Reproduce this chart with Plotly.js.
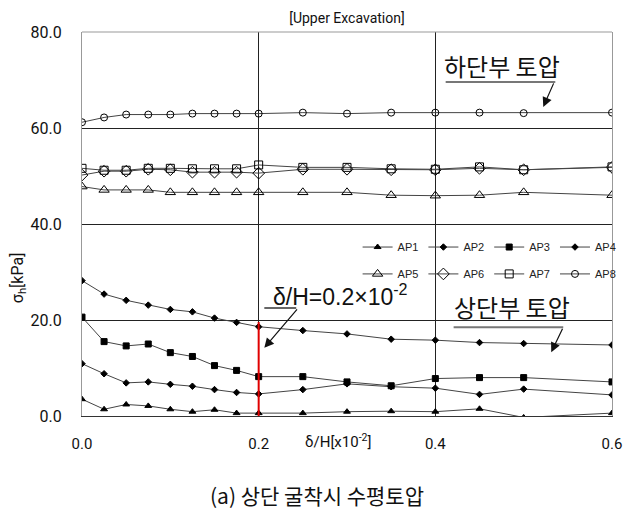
<!DOCTYPE html>
<html>
<head>
<meta charset="utf-8">
<script src="https://cdn.plot.ly/plotly-3.0.1.min.js"></script>
<style>html,body{margin:0;padding:0;background:#fff;}#chart{width:623px;height:517px;}</style>
</head>
<body>
<div id="chart"></div>
<script>
// δ/H [x10^-2]
const xVals = [0, 0.025, 0.05, 0.075, 0.1, 0.125, 0.15, 0.175, 0.2, 0.25, 0.3, 0.35, 0.4, 0.45, 0.5, 0.6];
// σh [kPa]
const AP1 = [3.5, 1.4, 2.4, 2.1, 1.4, 0.9, 1.3, 0.6, 0.6, 0.6, 0.9, 1.0, 0.9, 1.5, -0.3, 0.6];
const AP2 = [10.9, 8.8, 6.9, 7.1, 6.6, 6.2, 5.5, 4.9, 4.6, 5.5, 6.7, 6.1, 5.8, 4.5, 5.6, 4.4];
const AP3 = [20.6, 15.5, 14.6, 15.0, 13.2, 12.4, 10.5, 9.5, 8.2, 8.2, 7.1, 6.3, 7.8, 8.0, 8.0, 7.1];
const AP4 = [28.2, 25.4, 24.1, 23.1, 22.2, 21.7, 20.4, 19.5, 18.6, 17.8, 17.1, 16.0, 15.8, 15.3, 15.1, 14.8];
const AP5 = [47.8, 47.1, 47.1, 47.1, 46.6, 46.6, 46.6, 46.6, 46.6, 46.6, 46.6, 46.0, 45.9, 46.0, 46.6, 46.0];
const AP6 = [50.2, 51.0, 51.0, 51.4, 51.3, 50.8, 50.8, 50.8, 50.6, 51.4, 51.4, 51.3, 51.3, 51.6, 51.3, 51.8];
const AP7 = [51.6, 51.2, 51.2, 51.6, 51.6, 51.5, 51.5, 51.5, 52.3, 51.8, 51.8, 51.5, 51.4, 51.9, 51.3, 51.9];
const AP8 = [61.2, 62.2, 62.8, 62.8, 62.8, 63.0, 63.0, 63.0, 63.0, 63.2, 63.0, 63.2, 63.2, 63.2, 63.1, 63.2];

const seriesNames = ['AP1','AP2','AP3','AP4','AP5','AP6','AP7','AP8'];
const seriesData = [AP1, AP2, AP3, AP4, AP5, AP6, AP7, AP8];
const xTickVals = [0, 0.2, 0.4, 0.6];
const xTickText = ['0.0', '0.2', '0.4', '0.6'];
const yTickVals = [0, 20, 40, 60, 80];
const yTickText = ['0.0', '20.0', '40.0', '60.0', '80.0'];
const markerStyles = [
  {symbol: 'triangle-up', size: 6},
  {symbol: 'diamond', size: 5},
  {symbol: 'square', size: 6},
  {symbol: 'diamond', size: 5},
  {symbol: 'triangle-up-open', size: 9},
  {symbol: 'diamond-open', size: 9},
  {symbol: 'square-open', size: 8},
  {symbol: 'circle-open', size: 7}
];

const NARROW = 'Roboto, Liberation Sans, sans-serif';
const KR = 'Noto Sans CJK KR, sans-serif';

const traces = seriesNames.map((name, i) => ({
  x: xVals, y: seriesData[i], name: name, type: 'scatter', mode: 'lines+markers',
  line: {color: '#444', width: 1},
  marker: {symbol: markerStyles[i].symbol, size: markerStyles[i].size, color: '#000', line: {color: '#000', width: 1}},
  legend: i < 4 ? 'legend' : 'legend2',
  cliponaxis: true
}));

const layout = {
  width: 623, height: 517,
  margin: {l: 82, r: 11, t: 32, b: 101, autoexpand: false},
  paper_bgcolor: '#fff', plot_bgcolor: '#fff',
  showlegend: true,
  title: {text: '[Upper Excavation]', x: 0.5, xref: 'paper', xanchor: 'center', y: 0.965, yanchor: 'middle',
          font: {family: NARROW, size: 14, color: '#111'}},
  xaxis: {
    range: [0, 0.6], tickvals: xTickVals, ticktext: xTickText,
    showgrid: true, gridcolor: '#222', gridwidth: 1, zeroline: false,
    showline: true, linecolor: '#333', linewidth: 1,
    ticks: '', ticklabelstandoff: 14, ticklabeloverflow: 'allow',
    tickfont: {family: NARROW, size: 15, color: '#111'}
  },
  yaxis: {
    range: [0, 80], tickvals: yTickVals, ticktext: yTickText,
    showgrid: true, gridcolor: '#222', gridwidth: 1, zeroline: false,
    showline: true, linecolor: '#999', linewidth: 1, mirror: true,
    ticks: '', ticklabelstandoff: 16, ticklabeloverflow: 'allow',
    tickfont: {family: NARROW, size: 16, color: '#111'}
  },
  legend: {orientation: 'h', x: 0.52, xanchor: 'left', y: 0.44, yanchor: 'middle',
           bgcolor: 'rgba(0,0,0,0)', itemwidth: 30, font: {family: 'Liberation Sans, sans-serif', size: 11, color: '#222'}},
  legend2: {orientation: 'h', x: 0.52, xanchor: 'left', y: 0.37, yanchor: 'middle',
           bgcolor: 'rgba(0,0,0,0)', itemwidth: 30, font: {family: 'Liberation Sans, sans-serif', size: 11, color: '#222'}},
  shapes: [
    {type: 'line', xref: 'paper', yref: 'paper', x0: 0, x1: 1, y0: 1, y1: 1, line: {color: '#999', width: 1}},
    {type: 'line', xref: 'x', yref: 'y', x0: 0.2, x1: 0.2, y0: -0.8, y1: 19.6, line: {color: '#e00000', width: 2}},
    {type: 'line', xref: 'x', yref: 'y', x0: 0.2064, x1: 0.2425, y0: 22.5, y1: 22.5, line: {color: '#666', width: 2}},
    {type: 'line', xref: 'x', yref: 'y', x0: 0.4207, x1: 0.5448, y0: 18.5, y1: 18.5, line: {color: '#777', width: 2}},
    {type: 'line', xref: 'x', yref: 'y', x0: 0.4117, x1: 0.5358, y0: 69.6, y1: 69.6, line: {color: '#777', width: 2}}
  ],
  annotations: [
    {xref: 'x', yref: 'y', x: 0.2143, y: 25.2, xanchor: 'left', yanchor: 'middle', showarrow: false,
     text: 'δ/H=0.2×10<sup>-2</sup>', font: {family: 'Liberation Sans, sans-serif', size: 23, color: '#111'}},
    {xref: 'x', yref: 'y', x: 0.2064, y: 14.2, ax: 34, ay: -40, text: '',
     showarrow: true, arrowhead: 2, arrowsize: 1.6, arrowwidth: 1.2, arrowcolor: '#111'},
    {xref: 'x', yref: 'y', x: 0.4872, y: 22.9, xanchor: 'center', yanchor: 'middle', showarrow: false,
     text: '상단부 토압', font: {family: KR, size: 24, color: '#111'}},
    {xref: 'x', yref: 'y', x: 0.5312, y: 13.3, ax: 12, ay: -25, text: '',
     showarrow: true, arrowhead: 2, arrowsize: 1.6, arrowwidth: 1.2, arrowcolor: '#111'},
    {xref: 'x', yref: 'y', x: 0.476, y: 73.1, xanchor: 'center', yanchor: 'middle', showarrow: false,
     text: '하단부 토압', font: {family: KR, size: 24, color: '#111'}},
    {xref: 'x', yref: 'y', x: 0.5222, y: 64.4, ax: 11, ay: -25, text: '',
     showarrow: true, arrowhead: 2, arrowsize: 1.6, arrowwidth: 1.2, arrowcolor: '#111'},
    {xref: 'paper', yref: 'paper', x: 0.483, y: -0.065, xanchor: 'center', yanchor: 'middle', showarrow: false,
     text: 'δ/H[x10<sup>-2</sup>]', font: {family: NARROW, size: 15, color: '#111'}},
    {xref: 'paper', yref: 'paper', x: -0.12, y: 0.36, xanchor: 'center', yanchor: 'middle', showarrow: false,
     textangle: -90, text: 'σ<sub>h</sub>[kPa]', font: {family: NARROW, size: 16, color: '#111'}},
    {xref: 'paper', yref: 'paper', x: 0.444, y: -0.2057, xanchor: 'center', yanchor: 'middle', showarrow: false,
     text: '(a) 상단 굴착시 수평토압', font: {family: KR, size: 21, color: '#111'}}
  ]
};

Plotly.newPlot('chart', traces, layout, {displayModeBar: false, staticPlot: true});
</script>
</body>
</html>
